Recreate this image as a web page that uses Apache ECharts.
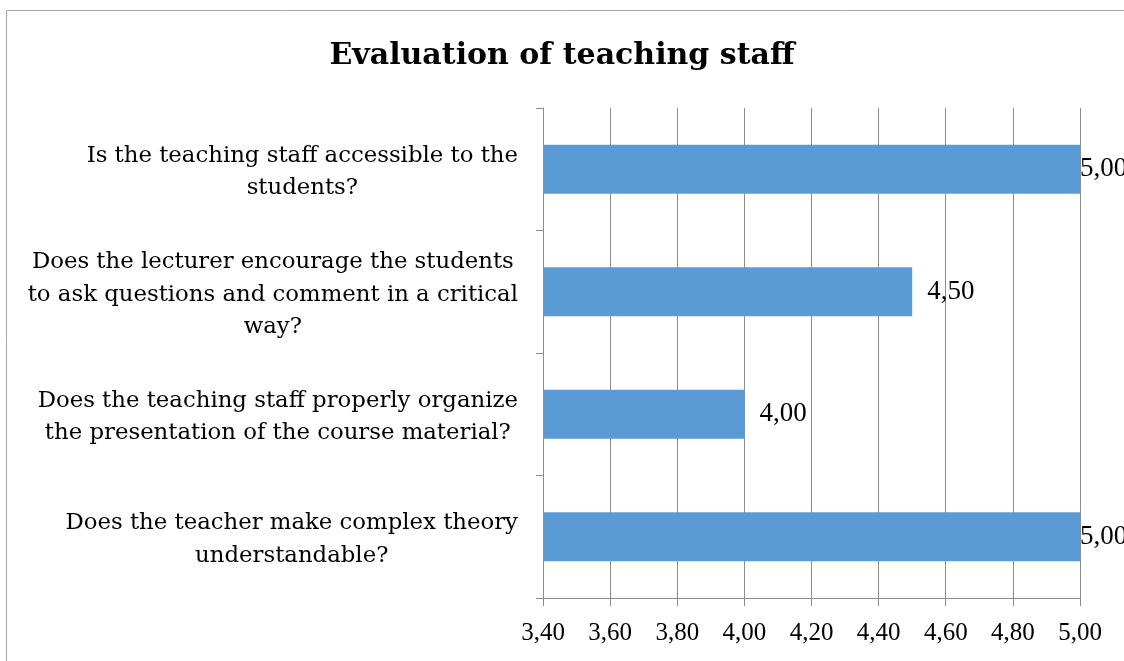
<!DOCTYPE html>
<html>
<head>
<meta charset="utf-8">
<script src="https://cdn.jsdelivr.net/npm/echarts@6/dist/echarts.min.js"></script>
<style>
html,body{margin:0;padding:0;background:#fff;}
#main{width:1124px;height:661px;}
</style>
</head>
<body>
<div id="main"></div>
<script>
var title = 'Evaluation of teaching staff';
var categories = [
  'Is the teaching staff accessible to the\nstudents?',
  'Does the lecturer encourage the students\nto ask questions and comment in a critical\nway?',
  'Does the teaching staff properly organize\nthe presentation of the course material?',
  'Does the teacher make complex theory\nunderstandable?'
];
var values = [5.00, 4.50, 4.00, 5.00];
var axisMin = 3.4, axisMax = 5.0, axisStep = 0.2;

var FONT = 'DejaVu Serif';
var NUMFONT = 'Liberation Serif';
function fmt(v) { return Number(v).toFixed(2).replace('.', ','); }

var chart = echarts.init(document.getElementById('main'));
chart.setOption({
  backgroundColor: '#fff',
  animation: false,
  title: {
    text: title,
    left: 'center',
    top: 36,
    textStyle: { fontFamily: FONT, fontSize: 30, fontWeight: 'bold', color: '#000' }
  },
  graphic: [{
    type: 'rect',
    shape: { x: 6.5, y: 10.5, width: 1300, height: 800 },
    style: { fill: null, stroke: '#a6a6a6', lineWidth: 1 },
    silent: true
  }],
  grid: { left: 543, right: 44, top: 108, bottom: 63, containLabel: false },
  xAxis: {
    type: 'value',
    min: axisMin, max: axisMax, interval: axisStep,
    axisLine: { show: true, lineStyle: { color: '#8c8c8c', width: 1 } },
    axisTick: { show: true, length: 8, lineStyle: { color: '#8c8c8c' } },
    splitLine: { show: true, lineStyle: { color: '#8c8c8c', width: 1 } },
    axisLabel: {
      margin: 23,
      fontFamily: NUMFONT, fontSize: 25, color: '#000',
      formatter: fmt
    }
  },
  yAxis: {
    type: 'category',
    inverse: true,
    data: categories,
    axisLine: { show: true, lineStyle: { color: '#8c8c8c', width: 1 } },
    axisTick: { show: true, length: 7, lineStyle: { color: '#8c8c8c' } },
    axisLabel: {
      margin: 25,
      align: 'right',
      padding: [6, 0, 0, 0],
      formatter: function (v) {
        return v.split('\n').map(function (l) { return '{c|' + l + '}'; }).join('\n');
      },
      rich: {
        c: { align: 'center', fontFamily: FONT, fontSize: 22.8, lineHeight: 32.5, color: '#000' }
      }
    }
  },
  series: [{
    type: 'bar',
    data: values.map(function (v) {
      return { value: v, label: { distance: v >= axisMax ? 0 : 15 } };
    }),
    barWidth: '40%',
    itemStyle: { color: '#5b9bd5' },
    label: {
      show: true,
      position: 'right',
      padding: [4, 0, 0, 0],
      fontFamily: NUMFONT, fontSize: 27, color: '#000',
      formatter: function (p) { return fmt(p.value); }
    }
  }]
});
</script>
</body>
</html>
